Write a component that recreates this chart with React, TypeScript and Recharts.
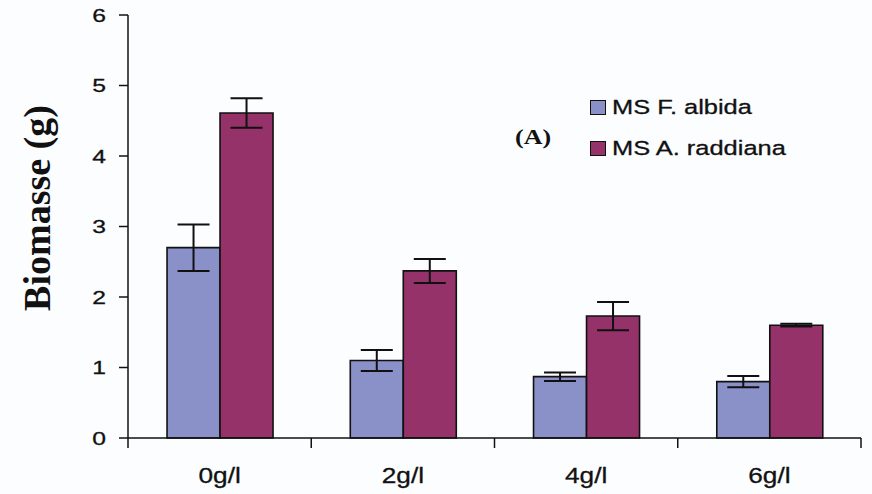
import React from 'react';
import { BarChart, Bar, XAxis, YAxis, ErrorBar, Label } from 'recharts';

const categories = ['0g/l', '2g/l', '4g/l', '6g/l'];
const albida = [2.7, 1.1, 0.87, 0.8];
const albidaErr = [0.33, 0.15, 0.06, 0.08];
const raddiana = [4.61, 2.37, 1.73, 1.6];
const raddianaErr = [0.21, 0.17, 0.2, 0.02];
const yTicks = [0, 1, 2, 3, 4, 5, 6];
const seriesNames = ['MS F. albida', 'MS A. raddiana'];
const panelTag = '(A)';

const data = categories.map((c, i) => ({
  cat: c,
  albida: albida[i],
  albidaErr: albidaErr[i],
  raddiana: raddiana[i],
  raddianaErr: raddianaErr[i],
}));

const BLUE = '#8a90c8';
const RED = '#96326a';
const W = 872;
const H = 494;
const LEFT = 128;
const RIGHT = 11;
const BAND = (W - LEFT - RIGHT) / categories.length;
const SANS = 'Liberation Sans, Arial, sans-serif';
const SERIF = 'Liberation Serif, Times New Roman, serif';

const YTick = (props: any) => {
  const { x, y, payload } = props;
  return (
    <g transform={`translate(${x},${y})`}>
      <text transform="scale(1.3,1)" textAnchor="end" dy="0.36em" fontSize={19} fontFamily={SANS} fill="#111" stroke="#111" strokeWidth={0.3}>
        {payload.value}
      </text>
    </g>
  );
};

const XTick = (props: any) => {
  const { x, y, payload, index } = props;
  const last = index === categories.length - 1;
  return (
    <g>
      <line x1={x - BAND / 2} x2={x - BAND / 2} y1={y} y2={y + 10} stroke="#111" strokeWidth={1.5} />
      {last && <line x1={x + BAND / 2} x2={x + BAND / 2} y1={y} y2={y + 10} stroke="#111" strokeWidth={1.5} />}
      <g transform={`translate(${x},${y + 37})`}>
        <text transform="scale(1.22,1)" textAnchor="middle" dy="0.36em" fontSize={21.5} fontFamily={SANS} fill="#111" stroke="#111" strokeWidth={0.3}>
          {payload.value}
        </text>
      </g>
    </g>
  );
};

const LegendBox = () => (
  <div style={{ position: 'absolute', left: 590, top: 95, width: 280, height: 80 }}>
    <div
      style={{
        position: 'absolute',
        left: -75,
        top: 32,
        fontFamily: SERIF,
        fontWeight: 'bold',
        fontSize: 20,
        color: '#111',
        transform: 'scaleX(1.3)',
        transformOrigin: 'left center',
        lineHeight: '20px',
      }}
    >
      {panelTag}
    </div>
    {seriesNames.map((n, i) => (
      <div key={n} style={{ position: 'absolute', left: 0, top: i * 41, height: 24, display: 'flex', alignItems: 'center' }}>
        <div style={{ width: 16, height: 15, background: i === 0 ? BLUE : RED, border: '1.5px solid #111', boxSizing: 'border-box' }} />
        <div
          style={{
            marginLeft: 6,
            fontFamily: SANS,
            fontSize: 20.5,
            color: '#111',
            transform: 'scaleX(1.24)',
            transformOrigin: 'left center',
            whiteSpace: 'nowrap',
            lineHeight: '24px',
            WebkitTextStroke: '0.3px #111',
          }}
        >
          {n}
        </div>
      </div>
    ))}
  </div>
);

const YLabel = () => (
  <text
    x={37}
    y={208}
    transform="rotate(-90, 37, 208)"
    textAnchor="middle"
    dominantBaseline="central"
    fontFamily={SERIF}
    fontWeight="bold"
    fontSize={38}
    fill="#111"
  >
    Biomasse (g)
  </text>
);

export default function App() {
  return (
    <div style={{ position: 'absolute', left: 0, top: 0, width: W, height: H, background: '#fcfdfe' }}>
      <BarChart
        width={W}
        height={H}
        data={data}
        margin={{ top: 15, right: RIGHT, left: 0, bottom: 0 }}
        barCategoryGap="21.3%"
        barGap={0}
      >
        <XAxis
          dataKey="cat"
          height={56}
          tickSize={0}
          tickMargin={0}
          tickLine={false}
          tick={<XTick />}
          axisLine={{ stroke: '#111', strokeWidth: 1.5 }}
          interval={0}
        />
        <XAxis
          xAxisId="top"
          dataKey="cat"
          orientation="top"
          height={0}
          tick={false}
          tickLine={false}
          axisLine={{ stroke: '#111', strokeWidth: 1.5 }}
        />
        <YAxis
          width={LEFT}
          domain={[0, 6]}
          ticks={yTicks}
          interval={0}
          tickSize={9}
          tickMargin={13}
          tick={<YTick />}
          tickLine={{ stroke: '#111', strokeWidth: 1.5 }}
          axisLine={{ stroke: '#111', strokeWidth: 1.5 }}
        >
          <Label content={<YLabel />} />
        </YAxis>
        <YAxis
          yAxisId="r"
          orientation="right"
          width={0}
          domain={[0, 6]}
          tick={false}
          tickLine={false}
          axisLine={{ stroke: '#111', strokeWidth: 1.5 }}
        />
        <Bar dataKey="albida" name={seriesNames[0]} fill={BLUE} stroke="#111" strokeWidth={1.6} isAnimationActive={false}>
          <ErrorBar dataKey="albidaErr" width={16} stroke="#111" strokeWidth={2} />
        </Bar>
        <Bar dataKey="raddiana" name={seriesNames[1]} fill={RED} stroke="#111" strokeWidth={1.6} isAnimationActive={false}>
          <ErrorBar dataKey="raddianaErr" width={16} stroke="#111" strokeWidth={2} />
        </Bar>
      </BarChart>
      <LegendBox />
    </div>
  );
}
